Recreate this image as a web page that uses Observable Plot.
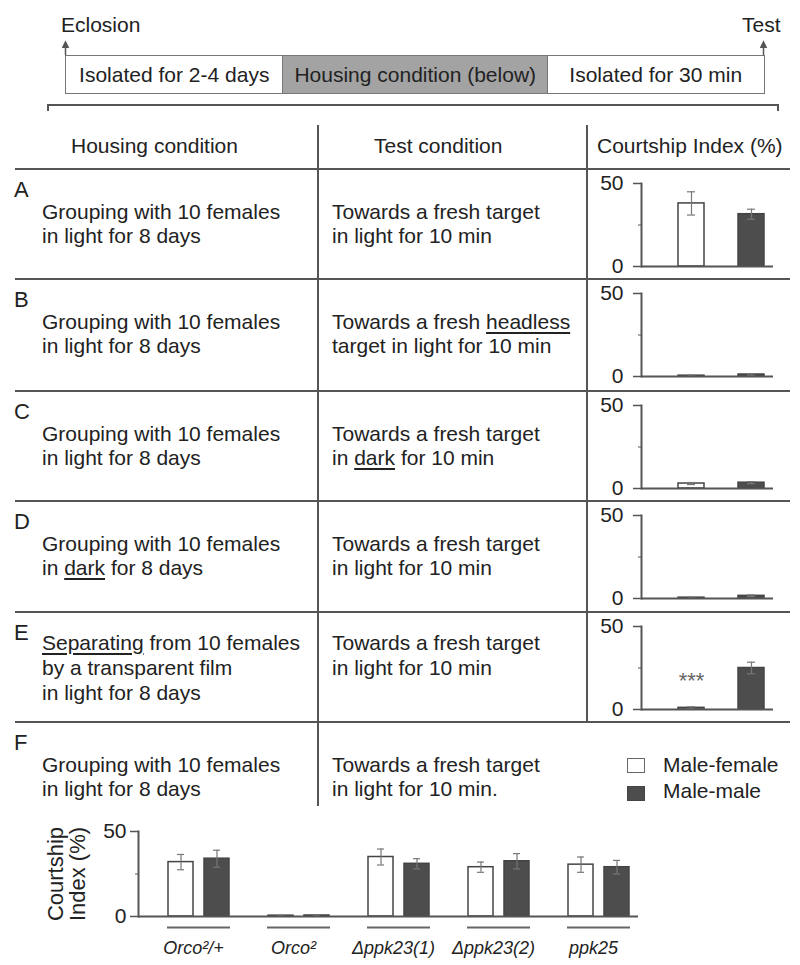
<!DOCTYPE html>
<html><head><meta charset="utf-8">
<script src="https://cdn.jsdelivr.net/npm/d3@7"></script>
<script src="https://cdn.jsdelivr.net/npm/@observablehq/plot@0.6"></script>
<style>
body{margin:0;background:#fff;}
#fig{position:relative;width:800px;height:965px;font-family:"Liberation Sans",Arial,sans-serif;font-size:21px;color:#222;overflow:hidden;background:#fff;}
.t{position:absolute;white-space:nowrap;line-height:24px;}
.hl{position:absolute;height:2px;background:#555;}
.vl{position:absolute;width:2px;background:#555;}
.box{position:absolute;box-sizing:border-box;border:1.5px solid #777;display:flex;align-items:center;justify-content:center;white-space:nowrap;}
u{text-decoration-thickness:1.5px;text-underline-offset:3px;}
.chart{position:absolute;}
</style></head><body><div id="fig"></div>
<script>
// ---------- data ----------
const timelineLabels = ["Isolated for 2-4 days", "Housing condition (below)", "Isolated for 30 min"];
const headers = ["Housing condition", "Test condition", "Courtship Index (%)"];
const rowIds = ["A", "B", "C", "D", "E", "F"];
const housing = [
  ["Grouping with 10 females", "in light for 8 days"],
  ["Grouping with 10 females", "in light for 8 days"],
  ["Grouping with 10 females", "in light for 8 days"],
  ["Grouping with 10 females", "in <u>dark</u> for 8 days"],
  ["<u>Separating</u> from 10 females", "by a transparent film", "in light for 8 days"],
  ["Grouping with 10 females", "in light for 8 days"]
];
const tests = [
  ["Towards a fresh target", "in light for 10 min"],
  ["Towards a fresh <u>headless</u>", "target in light for 10 min"],
  ["Towards a fresh target", "in <u>dark</u> for 10 min"],
  ["Towards a fresh target", "in light for 10 min"],
  ["Towards a fresh target", "in light for 10 min"],
  ["Towards a fresh target", "in light for 10 min."]
];
const series = ["Male-female", "Male-male"];
// rows A-E
const mfMean = [38, 0.5, 3, 0.5, 1];
const mfErr  = [7, 0.3, 0.6, 0.3, 0.6];
const mmMean = [31.5, 1.2, 3.5, 1.6, 25];
const mmErr  = [3, 0.5, 0.6, 0.5, 3.5];
const mfSig  = ["", "", "", "", "***"];
// panel F
const genotypes = ["Orco²/+", "Orco²", "Δppk23(1)", "Δppk23(2)", "ppk25"];
const fMfMean = [32, 0.5, 35, 29, 30.5];
const fMfErr  = [4.5, 0.2, 4.7, 3, 4.5];
const fMmMean = [34, 0.6, 31, 32.5, 29];
const fMmErr  = [5, 0.2, 3, 4.5, 4];
const yTicks = [0, 50];
const yMinor = [25];
const yTitle = "Courtship\nIndex (%)";

// ---------- layout ----------
const fig = document.getElementById("fig");
function el(cls, css, html) {
  const d = document.createElement("div");
  d.className = cls;
  Object.assign(d.style, css);
  if (html != null) d.innerHTML = html;
  fig.appendChild(d);
  return d;
}
function txt(html, left, baseline, extra = {}) {
  return el("t", Object.assign({left: left + "px", top: (baseline - 19.3) + "px"}, extra), html);
}

// timeline
txt("Eclosion", 61, 32);
txt("Test", 742, 32);
const tlX = [65, 282, 547, 763];
timelineLabels.forEach((lab, i) => {
  el("box", {left: tlX[i] + "px", top: "55px", width: (tlX[i + 1] - tlX[i] + 1.5) + "px", height: "39px",
    background: i === 1 ? "#a3a3a3" : "#fff"}, lab);
});
// arrows & bracket
const svgNS = "http://www.w3.org/2000/svg";
const deco = document.createElementNS(svgNS, "svg");
deco.setAttribute("width", 800); deco.setAttribute("height", 130);
deco.style.position = "absolute"; deco.style.left = "0"; deco.style.top = "0";
deco.innerHTML = `
  <g stroke="#555" stroke-width="1.5" fill="none">
    <line x1="65.5" y1="55" x2="65.5" y2="44"/><line x1="763.5" y1="55" x2="763.5" y2="44"/>
    <path d="M62.5,48 L65.5,42 L68.5,48" fill="#555"/><path d="M760.5,48 L763.5,42 L766.5,48" fill="#555"/>
    <path d="M48,111 L48,105 L778,105 L778,111" stroke-width="2"/>
  </g>`;
fig.appendChild(deco);

// table
txt(headers[0], 71, 153);
txt(headers[1], 374, 153);
txt(headers[2], 597, 153);
const lineY = [169, 279, 391, 501, 612, 722];
lineY.forEach(y => el("hl", {left: "15px", width: "775px", top: (y - 1) + "px"}));
el("vl", {left: "317px", top: "125px", height: "681px"});
el("vl", {left: "586px", top: "125px", height: "598px"});

rowIds.forEach((id, i) => {
  const y0 = lineY[i];
  txt(id, 14, y0 + 28, {fontSize: "22px"});
  const start = i === 4 ? 38 : 50;
  const step = i === 4 ? 25 : 24;
  housing[i].forEach((s, j) => txt(s, 42, y0 + start + j * step));
  tests[i].forEach((s, j) => txt(s, 332, y0 + start + j * step));
});

// legend
el("t", {left: "627px", top: "758px", width: "18px", height: "15px", boxSizing: "border-box", border: "1.5px solid #666", background: "#fff"});
el("t", {left: "627px", top: "786px", width: "18px", height: "15px", boxSizing: "border-box", border: "1.5px solid #444", background: "#4d4d4d"});
txt(series[0], 663, 772);
txt(series[1], 663, 798);

// ---------- charts ----------
const fontStyle = {fontFamily: "Liberation Sans, Arial, sans-serif", fontSize: "21px", color: "#222", background: "transparent", overflow: "visible"};
const colorScale = {domain: series, range: ["#ffffff", "#4d4d4d"]};

for (let i = 0; i < 5; i++) {
  const data = series.map((s, k) => ({
    s, v: k === 0 ? mfMean[i] : mmMean[i], e: k === 0 ? mfErr[i] : mmErr[i], sig: k === 0 ? mfSig[i] : ""
  }));
  const chart = Plot.plot({
    width: 200, height: 110, marginLeft: 51, marginRight: 17, marginTop: 12, marginBottom: 15,
    style: fontStyle,
    x: {type: "band", domain: series, paddingInner: 0.574, paddingOuter: 0.369, align: 0.8, axis: null},
    y: {domain: [0, 50], axis: null},
    color: colorScale,
    marks: [
      Plot.barY(data, {x: "s", y: "v", fill: "s", stroke: "#444", strokeWidth: 1.5}),
      Plot.ruleX(data, {x: "s", y1: d => d.v - d.e, y2: d => d.v + d.e, stroke: "#777", strokeWidth: 1.2}),
      Plot.tickY(data, {x: "s", y: d => d.v + d.e, insetLeft: 9, insetRight: 9, stroke: "#777", strokeWidth: 1.2}),
      Plot.tickY(data, {x: "s", y: d => d.v - d.e, insetLeft: 9, insetRight: 9, stroke: "#777", strokeWidth: 1.2}),
      Plot.ruleY([0], {stroke: "#555", strokeWidth: 2}),
      Plot.text(data, {x: "s", y: "v", text: "sig", dy: -27, fontSize: 22, fill: "#666"}),
      Plot.axisY({ticks: yTicks, tickSize: 8, tickPadding: 10, label: null, stroke: "#555", strokeWidth: 1.5, fontSize: 21}),
      Plot.axisY({ticks: yMinor, tickSize: 3, tickFormat: () => "", label: null, stroke: "#555"}),
      Plot.frame({anchor: "left", stroke: "#555", strokeWidth: 2})
    ]
  });
  chart.classList.add("chart");
  chart.style.position = "absolute";
  chart.style.left = "590px";
  chart.style.top = (lineY[i] + 2) + "px";
  fig.appendChild(chart);
}

// panel F chart
const fData = [];
genotypes.forEach((g, k) => {
  fData.push({g, s: series[0], v: fMfMean[k], e: fMfErr[k]});
  fData.push({g, s: series[1], v: fMmMean[k], e: fMmErr[k]});
});
const fChart = Plot.plot({
  width: 800, height: 165, marginLeft: 137, marginRight: 161, marginTop: 31, marginBottom: 49,
  style: fontStyle,
  fx: {domain: genotypes, padding: 0, axis: null, label: null},
  x: {type: "band", domain: series, paddingInner: 0.297, paddingOuter: 0.5, align: 0.78, axis: null},
  y: {domain: [0, 50], axis: null},
  color: colorScale,
  marks: [
    Plot.barY(fData, {fx: "g", x: "s", y: "v", fill: "s", stroke: "#444", strokeWidth: 1.5}),
    Plot.ruleX(fData, {fx: "g", x: "s", y1: d => d.v - d.e, y2: d => d.v + d.e, stroke: "#777", strokeWidth: 1.2}),
    Plot.tickY(fData, {fx: "g", x: "s", y: d => d.v + d.e, insetLeft: 9, insetRight: 9, stroke: "#777", strokeWidth: 1.2}),
    Plot.tickY(fData, {fx: "g", x: "s", y: d => d.v - d.e, insetLeft: 9, insetRight: 9, stroke: "#777", strokeWidth: 1.2}),
    Plot.ruleY([0], {stroke: "#555", strokeWidth: 2}),
    Plot.ruleY([0], {dy: 11, insetLeft: 29, insetRight: 8, stroke: "#666", strokeWidth: 2}),
    Plot.axisY({ticks: yTicks, tickSize: 8, tickPadding: 4, label: null, stroke: "#555", strokeWidth: 1.5, fontSize: 21}),
    Plot.axisY({ticks: yMinor, tickSize: 3, tickFormat: () => "", label: null, stroke: "#555"}),
    Plot.axisFx({anchor: "bottom", tickSize: 0, tickPadding: 25, label: null, fontStyle: "italic", fontSize: 18, dx: 5}),
    Plot.frame({anchor: "left", stroke: "#555", strokeWidth: 2, facetAnchor: "left"}),
    Plot.text([yTitle], {frameAnchor: "left", rotate: -90, textAnchor: "middle", lineAnchor: "middle", dx: -72, lineHeight: 1, fontSize: 22, facetAnchor: "left"})
  ]
});
fChart.style.position = "absolute";
fChart.style.left = "0px";
fChart.style.top = "800px";
fig.appendChild(fChart);
</script>
</body></html>
